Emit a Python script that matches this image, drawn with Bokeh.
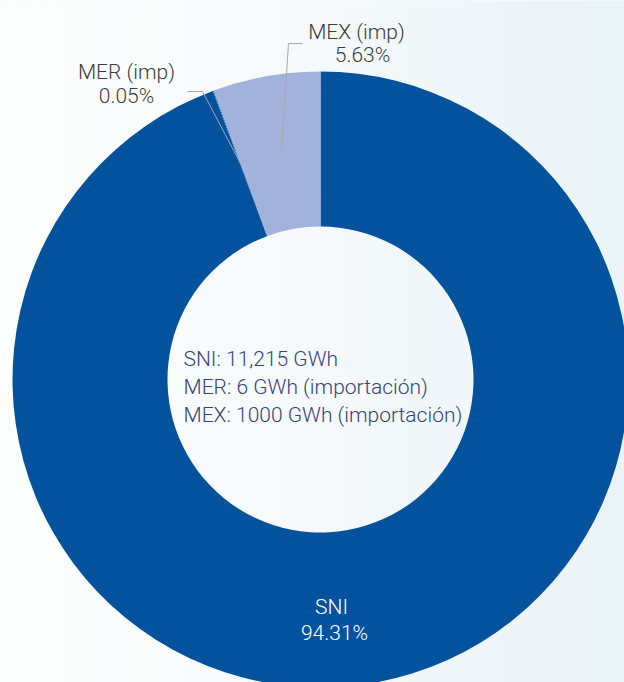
import numpy as np
from bokeh.plotting import figure
from bokeh.models import Range1d, ColumnDataSource
from bokeh.core.properties import value
from bokeh.embed import file_html
from bokeh.resources import INLINE

# ---- data ----
categories = ["SNI", "MER (imp)", "MEX (imp)"]
percents = [94.31, 0.05, 5.63]
pct_labels = ["94.31%", "0.05%", "5.63%"]
colors = ["#02529E", "#3A76BE", "#A3B2DA"]
center_lines = ["SNI: 11,215 GWh", "MER:  6 GWh (importación)", "MEX: 1000 GWh (importación)"]

W, H = 624, 682
p = figure(width=W, height=H, output_backend="svg", toolbar_location=None,
           x_range=Range1d(0, 624), y_range=Range1d(-682, 0), min_border=0)
p.axis.visible = False
p.grid.visible = False
p.outline_line_color = None
p.background_fill_color = "#F4F8FA"
p.border_fill_color = "#F4F8FA"

# soft background gradient (decoration)
nb = 40
xs = np.linspace(0, 624, nb + 1)
c0 = np.array([253, 254, 254]); c1 = np.array([234, 243, 247])
bg_cols = []
for i in range(nb):
    t = ((i + 0.5) / nb) ** 1.3
    c = (c0 * (1 - t) + c1 * t).astype(int)
    bg_cols.append("#%02x%02x%02x" % tuple(c))
p.quad(left=xs[:-1], right=xs[1:], bottom=-682, top=0, fill_color=bg_cols, line_color=None)

# donut
cx, cy = 320, -379
frac = np.array(percents) / sum(percents)
cum = np.concatenate([[0], np.cumsum(frac)])
start = np.pi / 2 - 2 * np.pi * cum[1:]
end = np.pi / 2 - 2 * np.pi * cum[:-1]
src = ColumnDataSource(dict(start=start, end=end, color=colors, cat=categories))
p.annular_wedge(x=cx, y=cy, inner_radius=153, outer_radius=308, start_angle="start",
                end_angle="end", fill_color="color", line_color=None, source=src)

# leader lines
p.line(x=[302, 288, 281], y=[-43, -43, -152], line_color="#A8A8A8", line_width=1)
p.line(x=[187, 202, 240], y=[-91, -91, -163], line_color="#A8A8A8", line_width=1)

font = value("Roboto Light")
# outer labels
p.text(x=[331, 126, 356], y=[-606, -71, -31], text=categories, text_font=font,
       text_font_size="21px", text_align="center", text_baseline="middle",
       text_color=["#FFFFFF", "#3C3C3C", "#3C3C3C"])
p.text(x=[334, 126, 362], y=[-632, -95, -54], text=pct_labels, text_font=font,
       text_font_size="21px", text_align="center", text_baseline="middle",
       text_color=["#FFFFFF", "#3C3C3C", "#3C3C3C"])

# center text
p.text(x=[183, 183, 183], y=[-358, -386, -414], text=center_lines, text_font=font,
       text_font_size="21px", text_align="left", text_baseline="middle",
       text_color="#36447A")

open("out.html", "w").write(file_html(p, INLINE))
